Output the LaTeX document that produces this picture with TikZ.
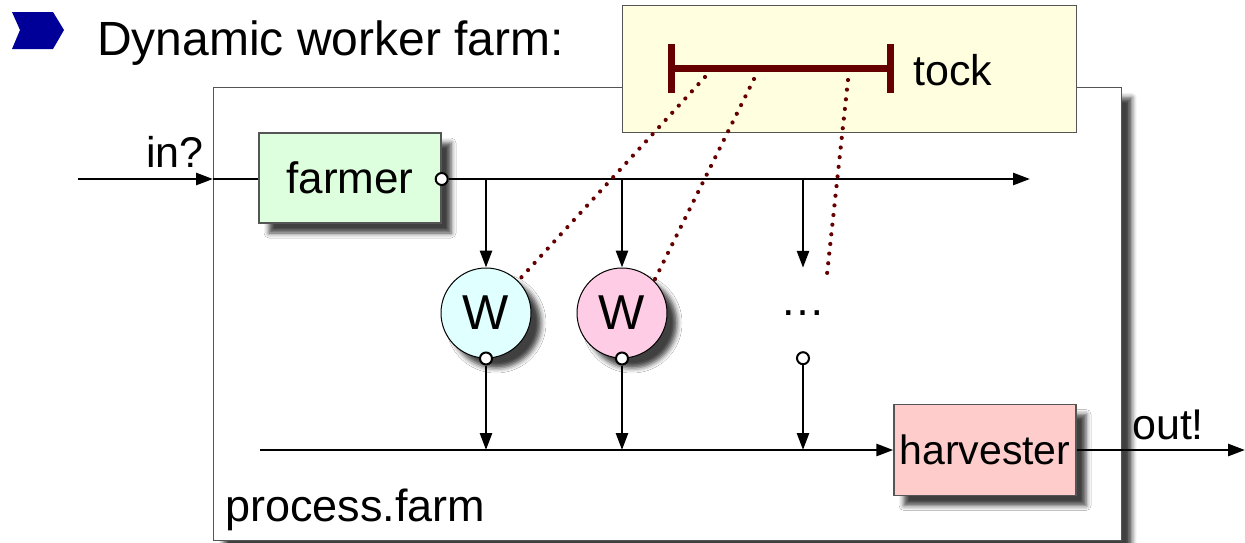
\documentclass[tikz,border=0pt]{standalone}
\usepackage{fontspec}
\setmainfont{Liberation Sans}
\usetikzlibrary{arrows.meta,positioning,calc,shadows.blur}
\definecolor{bulletblue}{HTML}{000099}
\definecolor{tockred}{HTML}{660000}
\definecolor{farmgreen}{HTML}{DDFFDD}
\definecolor{harvpink}{HTML}{FFCCCC}
\definecolor{wcyan}{HTML}{E0FFFF}
\definecolor{wpink}{HTML}{FFCCE5}
\definecolor{tockyellow}{HTML}{FFFFE0}
\definecolor{frame}{HTML}{555555}

\begin{document}
\begin{tikzpicture}[x=1pt, y=-1pt, font=\fontsize{44}{50}\selectfont,
  >={Triangle[length=17pt,width=12pt]},
  wire/.style={line width=2.7pt, draw=black},
  flow/.style={wire, ->},
  shade/.style={blur shadow={shadow xshift=10pt, shadow yshift=-10pt, shadow blur radius=5pt, shadow opacity=75}},
  proc/.style={draw=frame, line width=1.4pt, minimum width=182pt, minimum height=90pt, inner sep=0pt, shade},
  worker/.style={circle, draw=black, line width=1pt, minimum size=90pt, inner sep=0pt,
                 font=\fontsize{49}{54}\selectfont, shade},
  port/.style={circle, draw=black, fill=white, line width=2pt, minimum size=12pt, inner sep=0pt},
  sync/.style={draw=tockred, line width=4.2pt, line cap=round, dash pattern=on 0pt off 9.7pt},
  bar/.style={draw=tockred, line width=7pt},
  lab/.style={inner sep=0pt}]
\useasboundingbox (0,0) rectangle (1245,542);

% ---------------- heading
\fill[bulletblue] (12,12) -- (53,12) -- (64,30) -- (53,49) -- (12,49) -- (20,30) -- cycle;
\node[lab, anchor=base west, font=\fontsize{48}{54}\selectfont] (title) at (97,55) {Dynamic worker farm:};

% ---------------- the farm process and its clock
\node[draw=frame, line width=1.4pt, fill=white, minimum width=908pt, minimum height=453pt,
      anchor=north west, shade] (farm) at (213,87) {};
\node[lab, anchor=base west, font=\fontsize{45}{50}\selectfont] (farmname) at (225,521) {process.farm};

\node[draw=frame, line width=1.2pt, fill=tockyellow, minimum width=454pt, minimum height=127pt,
      anchor=north west] (clock) at (622,5) {};
\coordinate (barL) at (671,68);
\coordinate (barR) at (890,68);
\draw[bar] (barL) -- (barR);
\draw[bar] ($(barL)+(0,-24)$) -- ($(barL)+(0,25)$);
\draw[bar] ($(barR)+(0,-24)$) -- ($(barR)+(0,25)$);
\node[lab, anchor=base west, font=\fontsize{43}{48}\selectfont] (tock) at (913,85) {tock};

% ---------------- farmer, workers, harvester
\node[proc, fill=farmgreen] (farmer) at (350,178) {farmer};
\node[worker, fill=wcyan] (w1) at (486,313) {W};
\node[worker, fill=wpink] (w2) at (622,313) {W};
\node[circle, minimum size=90pt, inner sep=0pt, font=\fontsize{45}{50}\selectfont] (more) at (803,313) {\char"2026};
\node[proc, fill=harvpink, minimum height=91pt, font=\fontsize{41}{46}\selectfont] (harv) at (985,450) {harvester};

% ---------------- channels
\coordinate (inStart) at (78,179);
\coordinate (topEnd) at (1030,179);
\coordinate (collect) at (260,450);
\coordinate (outEnd) at (1245,450);
\node[lab, anchor=base west, font=\fontsize{43}{48}\selectfont] (inlab) at (146,167) {in?};
\node[lab, anchor=base west, font=\fontsize{43}{48}\selectfont] (outlab) at (1132,439) {out!};

\draw[flow] (inStart) -- (inStart -| farm.west);
\draw[wire] (inStart -| farm.west) -- (farmer.west |- inStart);
\node[port] (fport) at (farmer.east |- inStart) {};
\draw[flow] (fport.east) -- (topEnd);
\draw[flow] (fport -| w1) -- (w1.north);
\draw[flow] (fport -| w2) -- (w2.north);
\draw[flow] (fport -| more) -- (more.north);

\node[port] (o1) at (w1.south) {};
\node[port] (o2) at (w2.south) {};
\node[port] (o3) at (more.south) {};
\draw[flow] (o1.south) -- (o1 |- collect);
\draw[flow] (o2.south) -- (o2 |- collect);
\draw[flow] (o3.south) -- (o3 |- collect);
\draw[flow] (collect) -- (harv.west);
\draw[flow] (harv.east) -- (outEnd);

% ---------------- workers tied to the clock
\coordinate (s1) at (705,77);
\coordinate (s2) at (754,79);
\coordinate (s3) at (848,80);
\draw[sync] (s1) -- (w1.45);
\draw[sync] (s2) -- (w2.45);
\draw[sync] (s3) -- (more.58);
\end{tikzpicture}
\end{document}
